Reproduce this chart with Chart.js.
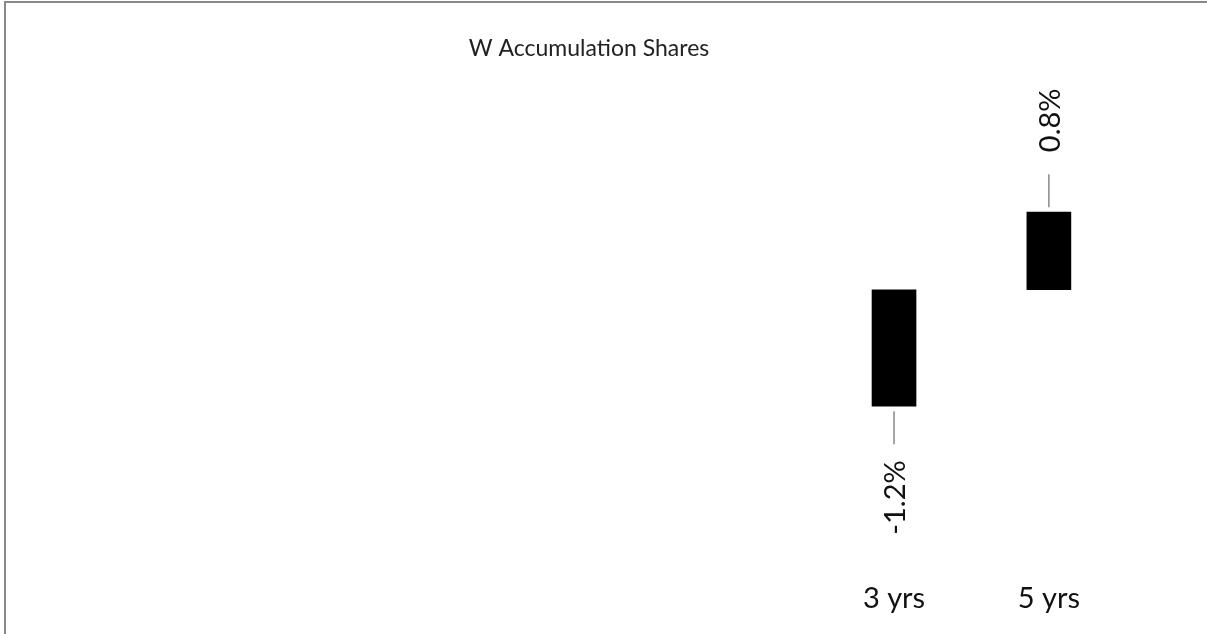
<!DOCTYPE html>
<html>
<head>
<meta charset="utf-8">
<script src="https://cdn.jsdelivr.net/npm/chart.js@4"></script>
<style>
  html, body { margin: 0; padding: 0; background: #fff; overflow: hidden; }
  #wrap { position: relative; width: 1207px; height: 634px; }
  #frame { position: absolute; left: 4px; top: 1px; width: 1400px; height: 800px;
           border-left: 2px solid #888; border-top: 2px solid #888; pointer-events: none; }
  canvas { position: absolute; left: 0; top: 0; }
</style>
</head>
<body>
<div id="wrap">
  <canvas id="c" width="1207" height="634"></canvas>
  <div id="frame"></div>
</div>
<script>
const title = 'W Accumulation Shares';
const categories = ['3 yrs', '5 yrs'];
const values = [-1.2, 0.8];
const valueLabels = ['-1.2%', '0.8%'];

const FONT = 'Lato, "Open Sans", "Noto Sans", sans-serif';

const labelPlugin = {
  id: 'barLabels',
  afterDatasetsDraw(chart) {
    const ctx = chart.ctx;
    const meta = chart.getDatasetMeta(0);
    meta.data.forEach((bar, i) => {
      const v = values[i];
      const up = v >= 0;
      const x = bar.x;
      const end = bar.y;
      const l0 = up ? end - 5 : end + 5;
      const l1 = up ? end - 38 : end + 38;
      ctx.save();
      ctx.strokeStyle = '#888';
      ctx.lineWidth = 1.5;
      ctx.beginPath();
      ctx.moveTo(x, l0);
      ctx.lineTo(x, l1);
      ctx.stroke();
      const ty = up ? l1 - 22 : l1 + 16;
      ctx.translate(x + 2, ty);
      ctx.rotate(-Math.PI / 2);
      ctx.font = '400 29px ' + FONT;
      ctx.fillStyle = '#111';
      ctx.textBaseline = 'middle';
      ctx.textAlign = up ? 'left' : 'right';
      ctx.fillText(valueLabels[i], 0, 0);
      ctx.restore();
    });
  }
};

new Chart(document.getElementById('c'), {
  type: 'bar',
  data: {
    labels: categories,
    datasets: [{
      data: values,
      backgroundColor: '#000',
      borderWidth: 0,
      barThickness: 44
    }]
  },
  options: {
    responsive: false,
    animation: false,
    events: [],
    layout: { padding: { left: 51.7, right: 80.7, top: 0, bottom: 18.3 } },
    plugins: {
      legend: { display: false },
      tooltip: { enabled: false },
      title: {
        display: true,
        text: title,
        color: '#222',
        font: { family: FONT, size: 23, weight: '400' },
        padding: { top: 35.2, bottom: 32.9 }
      }
    },
    scales: {
      x: {
        grid: { display: false, drawTicks: false },
        border: { display: false },
        ticks: { color: '#111', padding: 0, font: { family: FONT, size: 29, weight: '400' } }
      },
      y: {
        min: -3,
        max: 2,
        afterFit(scale) { scale.width = 764.9; },
        grid: { display: false, drawTicks: false },
        border: { display: false },
        ticks: { display: false }
      }
    }
  },
  plugins: [labelPlugin]
});
</script>
</body>
</html>
